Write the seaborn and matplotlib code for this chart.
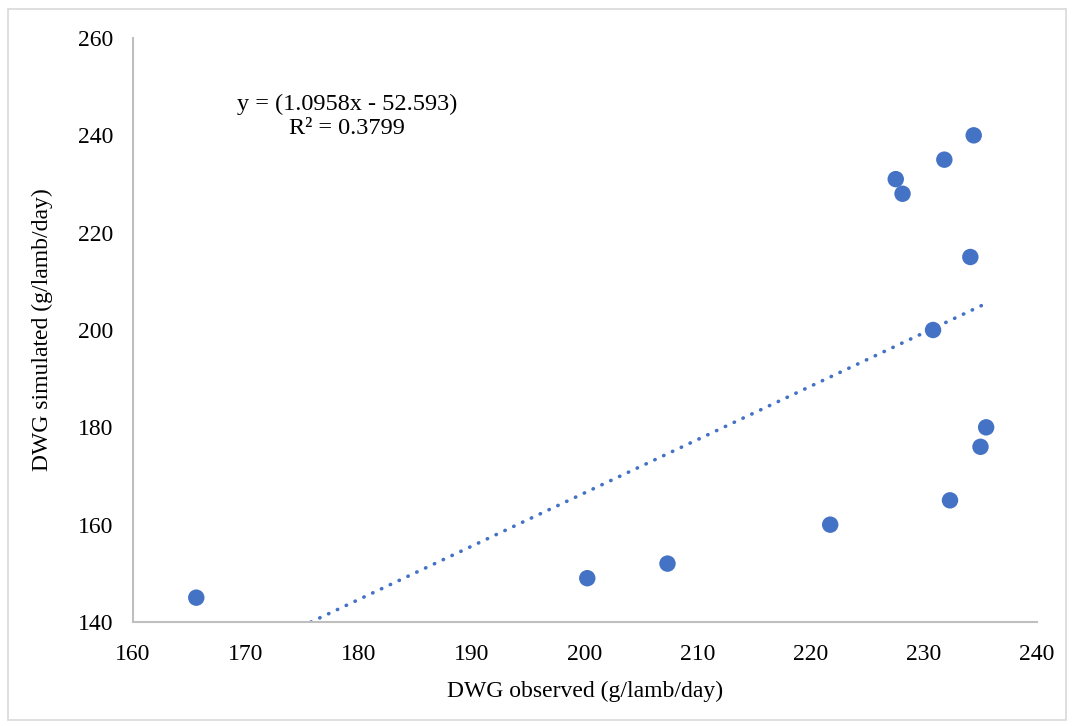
import matplotlib
matplotlib.use("Agg")
import matplotlib.pyplot as plt
import seaborn as sns
import numpy as np
import pandas as pd

observed = [165.6, 200.2, 207.3, 221.7, 227.5, 228.1, 231.8, 234.4, 234.1, 230.8, 235.5, 235.0, 232.3]
simulated = [145, 149, 152, 160, 231, 228, 235, 240, 215, 200, 180, 176, 165]
trend_slope = 1.0958
trend_intercept = -52.593
equation_text = "y = (1.0958x - 52.593)"
r2_text = "R² = 0.3799"
xticks = [160, 170, 180, 190, 200, 210, 220, 230, 240]
yticks = [140, 160, 180, 200, 220, 240, 260]

sns.set_theme(style="white")
plt.rcParams['font.family'] = ['Liberation Serif', 'DejaVu Serif']
plt.rcParams['text.color'] = 'black'

fig = plt.figure(figsize=(10.74, 7.26), dpi=100)
ax = fig.add_axes([133/1074, 1 - 622/726, (1037-133)/1074, (622-38)/726])

df = pd.DataFrame({"obs": observed, "sim": simulated})
color = "#4472C4"
sns.scatterplot(data=df, x="obs", y="sim", ax=ax, color=color, s=140, edgecolor="none", zorder=3)

tx = np.array([min(observed), max(observed)])
ty = trend_slope * tx + trend_intercept
sns.lineplot(x=tx, y=ty, ax=ax, color=color, linestyle=(0, (0.1, 2.6)), linewidth=2.6, zorder=2)
for l in ax.lines:
    l.set_dash_capstyle("round")

ax.set_xlim(160, 240)
ax.set_ylim(140, 260)
ax.set_xticks(xticks)
ax.set_yticks(yticks)
ax.tick_params(axis="both", length=0, labelsize=17, colors="black")
ax.tick_params(axis="y", pad=14)
ax.tick_params(axis="x", pad=16)

for s in ["top", "right"]:
    ax.spines[s].set_visible(False)
for s in ["left", "bottom"]:
    ax.spines[s].set_color("#BFBFBF")
    ax.spines[s].set_linewidth(1.5)

ax.set_xlabel("DWG observed (g/lamb/day)", fontsize=17, color="black", labelpad=11)
ax.set_ylabel("DWG simulated (g/lamb/day)", fontsize=17, color="black", labelpad=18)

fig.text(347/1074, 1 - 104/726, equation_text, ha="center", va="center", fontsize=17.5, color="black")
fig.text(347/1074, 1 - 129/726, r2_text, ha="center", va="center", fontsize=17.5, color="black")

border = plt.Rectangle((8/1074, 6/726), (1066-8)/1074, (717-6)/726, transform=fig.transFigure,
                       fill=False, edgecolor="#D9D9D9", linewidth=1.2)
fig.patches.append(border)

fig.savefig("out.png", dpi=100)
